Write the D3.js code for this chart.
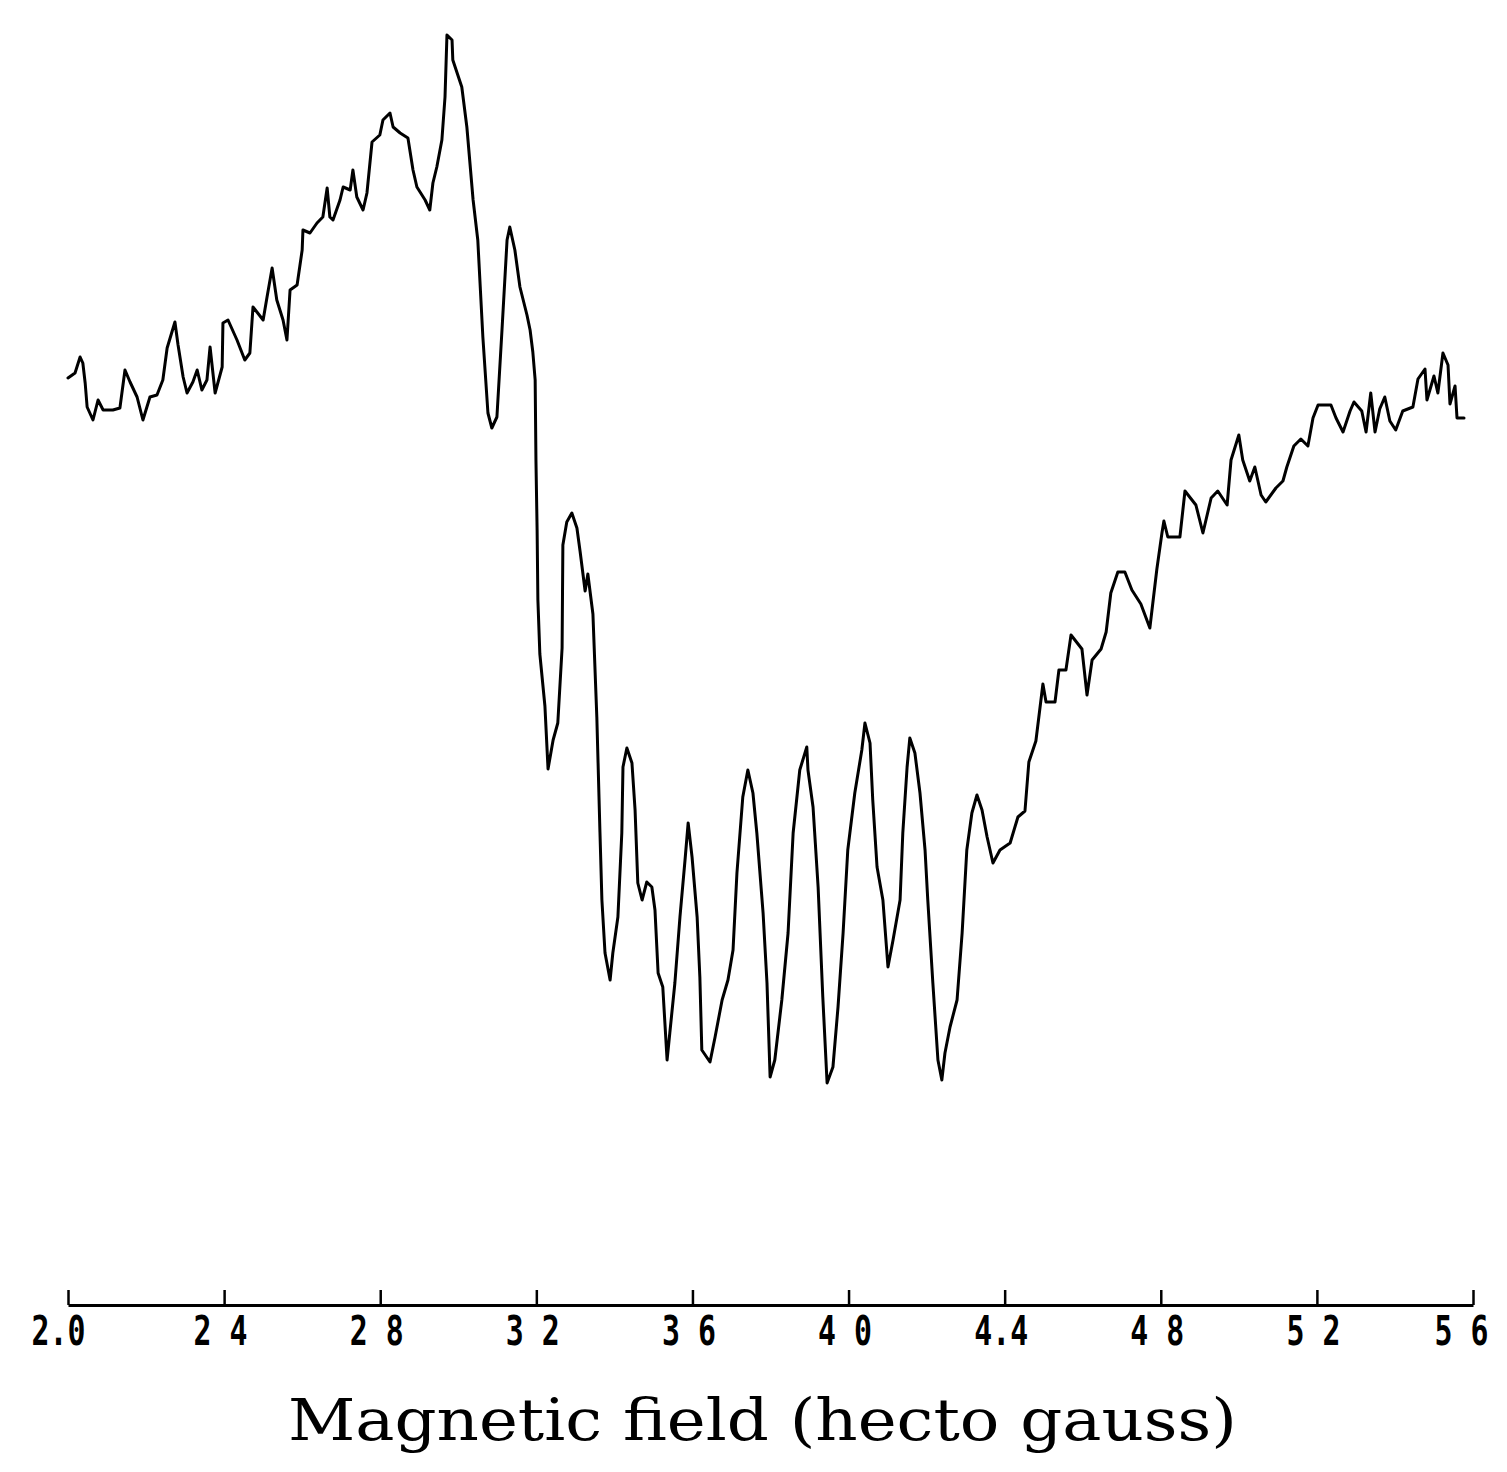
<!DOCTYPE html>
<html>
<head>
<meta charset="utf-8">
<script src="https://cdn.jsdelivr.net/npm/d3@7"></script>
<style>
  body { margin: 0; background: #fff; }
  svg { display: block; }
</style>
</head>
<body>
<div id="chart"></div>
<script>
// magnetic field, hecto gauss
const fieldHG = [
  20.00, 20.18, 20.31, 20.38, 20.44, 20.49, 20.64, 20.77, 20.90, 21.15,
  21.33, 21.46, 21.59, 21.77, 21.92, 22.10, 22.28, 22.43, 22.54, 22.74,
  22.82, 22.95, 23.05, 23.20, 23.31, 23.43, 23.56, 23.64, 23.77, 23.95,
  23.97, 24.10, 24.33, 24.53, 24.66, 24.74, 25.00, 25.10, 25.23, 25.35,
  25.51, 25.61, 25.69, 25.87, 26.00, 26.02, 26.20, 26.38, 26.53, 26.64,
  26.71, 26.79, 26.97, 27.05, 27.23, 27.30, 27.40, 27.56, 27.66, 27.79,
  27.99, 28.07, 28.25, 28.33, 28.51, 28.71, 28.84, 28.94, 29.15, 29.27,
  29.35, 29.45, 29.58, 29.66, 29.71, 29.84, 29.86, 30.09, 30.22, 30.38,
  30.50, 30.63, 30.76, 30.86, 30.99, 31.12, 31.25, 31.32, 31.45, 31.58,
  31.76, 31.84, 31.91, 31.97, 31.99, 32.02, 32.04, 32.09, 32.22, 32.30,
  32.43, 32.55, 32.66, 32.68, 32.78, 32.91, 33.04, 33.12, 33.25, 33.32,
  33.45, 33.55, 33.63, 33.68, 33.76, 33.89, 33.96, 34.09, 34.19, 34.22,
  34.32, 34.45, 34.53, 34.60, 34.71, 34.83, 34.96, 35.04, 35.12, 35.24,
  35.35, 35.42, 35.55, 35.68, 35.81, 35.89, 35.99, 36.12, 36.19, 36.24,
  36.45, 36.58, 36.76, 36.91, 37.04, 37.14, 37.29, 37.42, 37.55, 37.65,
  37.81, 37.91, 37.99, 38.11, 38.29, 38.45, 38.58, 38.75, 38.93, 38.96,
  39.09, 39.22, 39.34, 39.45, 39.60, 39.73, 39.86, 39.98, 40.16, 40.34,
  40.42, 40.55, 40.62, 40.73, 40.88, 41.01, 41.14, 41.32, 41.39, 41.50,
  41.57, 41.70, 41.83, 41.96, 42.03, 42.16, 42.29, 42.39, 42.47, 42.60,
  42.78, 42.91, 43.03, 43.16, 43.29, 43.42, 43.55, 43.70, 43.88, 44.14,
  44.34, 44.52, 44.62, 44.80, 44.98, 45.06, 45.29, 45.39, 45.57, 45.70,
  45.98, 46.11, 46.24, 46.47, 46.60, 46.72, 46.90, 47.08, 47.26, 47.49,
  47.72, 47.90, 48.03, 48.08, 48.18, 48.49, 48.62, 48.90, 49.08, 49.29,
  49.46, 49.70, 49.80, 50.00, 50.10, 50.28, 50.41, 50.57, 50.69, 50.95,
  51.13, 51.23, 51.41, 51.59, 51.77, 51.90, 52.03, 52.36, 52.49, 52.67,
  52.85, 52.95, 53.15, 53.26, 53.38, 53.49, 53.61, 53.74, 53.87, 54.02,
  54.20, 54.46, 54.59, 54.77, 54.82, 55.00, 55.10, 55.23, 55.36, 55.41,
  55.54, 55.59, 55.77
];

// signal, arbitrary units
const signal = [
  71.2, 71.7, 73.3, 72.7, 70.7, 68.3, 67.0, 69.0, 68.0, 68.0,
  68.2, 72.0, 70.8, 69.3, 67.0, 69.3, 69.5, 71.0, 74.2, 76.8,
  74.5, 71.3, 69.7, 70.8, 72.0, 70.0, 71.0, 74.3, 69.7, 72.3,
  76.7, 77.0, 75.0, 73.0, 73.7, 78.3, 77.0, 79.3, 82.2, 79.0,
  77.0, 75.0, 80.0, 80.5, 84.0, 86.0, 85.7, 86.7, 87.3, 90.2,
  87.3, 87.0, 89.0, 90.3, 90.0, 92.0, 89.3, 88.0, 89.7, 94.8,
  95.5, 97.0, 97.7, 96.3, 95.7, 95.2, 92.0, 90.3, 89.0, 88.0,
  90.7, 92.3, 95.0, 99.3, 105.5, 105.0, 103.0, 100.3, 96.3, 89.0,
  85.0, 75.3, 67.7, 66.2, 67.3, 76.0, 85.0, 86.3, 84.0, 80.3,
  77.5, 76.0, 73.8, 71.0, 63.0, 56.0, 49.0, 43.6, 38.4, 32.1,
  35.0, 36.7, 44.2, 54.5, 56.8, 57.7, 56.2, 53.9, 49.9, 51.6,
  47.6, 37.3, 25.8, 19.0, 13.7, 11.0, 13.7, 17.3, 25.7, 32.3,
  34.2, 32.7, 28.0, 20.7, 19.0, 20.8, 20.3, 18.0, 11.7, 10.3,
  3.0, 5.7, 10.7, 17.3, 23.0, 26.7, 23.3, 17.3, 11.3, 4.0,
  2.8, 5.3, 9.0, 11.0, 14.0, 21.7, 29.3, 32.0, 29.7, 25.7,
  17.7, 10.7, 1.3, 3.0, 9.0, 15.7, 25.7, 32.0, 34.3, 32.0,
  28.3, 20.3, 9.3, 0.7, 2.3, 8.3, 15.7, 24.0, 29.7, 34.0,
  36.7, 34.7, 29.0, 22.3, 19.0, 12.3, 15.0, 19.0, 25.7, 32.3,
  35.2, 33.7, 29.7, 24.0, 19.0, 10.7, 3.0, 1.0, 3.7, 6.3,
  9.0, 15.7, 24.0, 27.7, 29.5, 28.0, 25.3, 22.7, 24.0, 24.7,
  27.3, 27.9, 32.8, 34.9, 40.6, 38.8, 38.8, 42.0, 42.0, 45.5,
  44.1, 39.5, 43.0, 44.1, 45.8, 49.7, 51.8, 51.8, 50.0, 48.6,
  46.2, 52.1, 55.7, 56.9, 55.3, 55.3, 59.9, 58.5, 55.7, 59.2,
  59.9, 58.5, 63.0, 65.5, 63.0, 60.9, 62.3, 59.5, 58.8, 60.2,
  60.9, 62.3, 64.4, 65.1, 64.4, 67.2, 68.5, 68.5, 67.2, 65.8,
  67.9, 68.8, 67.9, 65.8, 69.7, 65.8, 68.1, 69.3, 66.9, 66.0,
  67.9, 68.3, 71.1, 72.1, 69.0, 71.4, 69.7, 73.7, 72.5, 68.6,
  70.4, 67.2, 67.2
];

const tickValues = [20, 24, 28, 32, 36, 40, 44, 48, 52, 56];
const tickLabels = ["2.0", "2 4", "2 8", "3 2", "3 6", "4 0", "4.4", "4 8", "5 2", "5 6"];
const axisTitle = "Magnetic field (hecto gauss)";

const width = 1507, height = 1472;
const axisY = 1305;

const svg = d3.select("#chart")
    .append("svg")
    .attr("width", width)
    .attr("height", height);

svg.append("rect")
    .attr("width", width)
    .attr("height", height)
    .attr("fill", "#fff");

const x = d3.scaleLinear().domain([20, 56]).range([68, 1473]);
const y = d3.scaleLinear().domain([0, 105]).range([1090, 40]);

const points = fieldHG.map((f, i) => [f, signal[i]]);

const line = d3.line()
    .x(d => x(d[0]))
    .y(d => y(d[1]));

svg.append("path")
    .datum(points)
    .attr("fill", "none")
    .attr("stroke", "#000")
    .attr("stroke-width", 3)
    .attr("stroke-linejoin", "round")
    .attr("stroke-linecap", "round")
    .attr("d", line);

// axis, ticks pointing up, labels below
const xAxis = d3.axisBottom(x)
    .tickValues(tickValues)
    .tickFormat((d, i) => tickLabels[i])
    .tickSize(-15)
    .tickSizeOuter(0)
    .tickPadding(12);

const gx = svg.append("g")
    .attr("transform", "translate(0," + axisY + ")")
    .call(xAxis);

gx.select(".domain")
    .attr("stroke", "#000")
    .attr("stroke-width", 3);

gx.selectAll(".tick line")
    .attr("stroke", "#000")
    .attr("stroke-width", 2.5);

gx.selectAll(".tick text")
    .attr("fill", "#000")
    .attr("font-family", "'DejaVu Sans Mono', monospace")
    .attr("font-weight", "bold")
    .attr("font-size", 40)
    .attr("dx", (d, i) => i === 0 ? -10 : (i === tickValues.length - 1 ? -12 : -4))
    .attr("textLength", 54)
    .attr("lengthAdjust", "spacingAndGlyphs");

svg.append("text")
    .attr("x", (288 + 1237) / 2)
    .attr("y", 1440)
    .attr("text-anchor", "middle")
    .attr("font-family", "'DejaVu Serif', serif")
    .attr("font-size", 58)
    .attr("textLength", 949)
    .attr("lengthAdjust", "spacingAndGlyphs")
    .attr("fill", "#000")
    .text(axisTitle);
</script>
</body>
</html>
